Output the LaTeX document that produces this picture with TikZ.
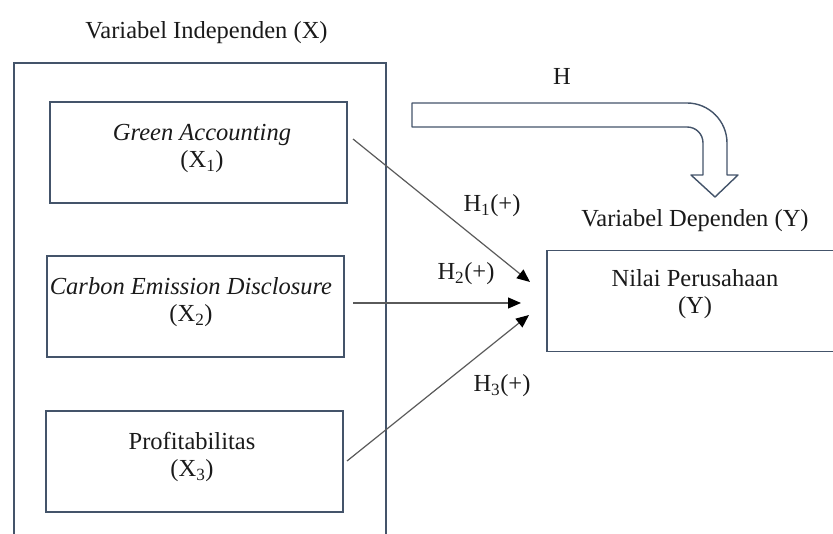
\documentclass[tikz,border=0pt]{standalone}
\usepackage{fontspec}
\setmainfont{Liberation Serif}
\usetikzlibrary{arrows.meta}
\definecolor{boxc}{HTML}{44546A}
\definecolor{linec}{HTML}{5A5A5A}
\definecolor{txtc}{HTML}{1A1A1A}
\begin{document}
\begin{tikzpicture}[x=1pt,y=-1pt,
  box/.style={draw=boxc,line width=1.4pt,inner sep=0pt},
  lab/.style={text=txtc,font=\fontsize{24.5}{27}\selectfont,align=center,inner sep=0pt},
  link/.style={draw=linec,line width=1.2pt,-{Triangle[length=13pt,width=11pt,color=black]}},
  bigarrow/.style={draw=boxc,line width=1.4pt,fill=white,line join=round}]
\useasboundingbox (0,0) rectangle (833,534);

% frames
\node[box,minimum width=372pt,minimum height=497pt] (outer) at (200,311.5) {};
\node[box,minimum width=297pt,minimum height=101pt] (b1) at (198.5,152.5) {};
\node[box,minimum width=297pt,minimum height=101pt] (b2) at (195.5,306.5) {};
\node[box,minimum width=297pt,minimum height=101pt] (b3) at (194.5,461.5) {};
\node[box,minimum width=300pt,minimum height=101pt] (by) at (697,301) {};

% labels
\node[lab,anchor=base] (title) at (206.5,39) {Variabel Independen (X)};
\node[lab,anchor=base] (dep) at (695,227) {Variabel Dependen (Y)};
\node[lab,anchor=base] (h) at (562,85) {H};
\node[lab,anchor=base] (h1) at (492,212) {H\textsubscript{1}(+)};
\node[lab,anchor=base] (h2) at (466,280) {H\textsubscript{2}(+)};
\node[lab,anchor=base] (h3) at (502,392) {H\textsubscript{3}(+)};

\node[lab] (t1) at (202,148.5) {\textit{Green Accounting}\\(X\textsubscript{1})};
\node[lab] (t2) at (191,302) {\textit{Carbon Emission Disclosure}\\(X\textsubscript{2})};
\node[lab] (t3) at (192,457) {Profitabilitas\\(X\textsubscript{3})};
\node[lab] (ty) at (695,294) {Nilai Perusahaan\\(Y)};

% connectors
\coordinate (s1) at (353,139);
\coordinate (s2) at (353,303);
\coordinate (s3) at (347,461);
\coordinate (e1) at (530,282);
\coordinate (e2) at (521,303);
\coordinate (e3) at (529,315);
\draw[link] (s1) -- (e1);
\draw[link] (s2) -- (e2);
\draw[link] (s3) -- (e3);

% bent block arrow
\draw[bigarrow] (412,103) -- (687,103)
  .. controls (709,103) and (727,121) .. (727,143)
  -- (727,175) -- (738,175) -- (715,197) -- (691,175) -- (703,175) -- (703,143)
  .. controls (703,134) and (696,127) .. (687,127)
  -- (412,127) -- cycle;
\end{tikzpicture}
\end{document}
